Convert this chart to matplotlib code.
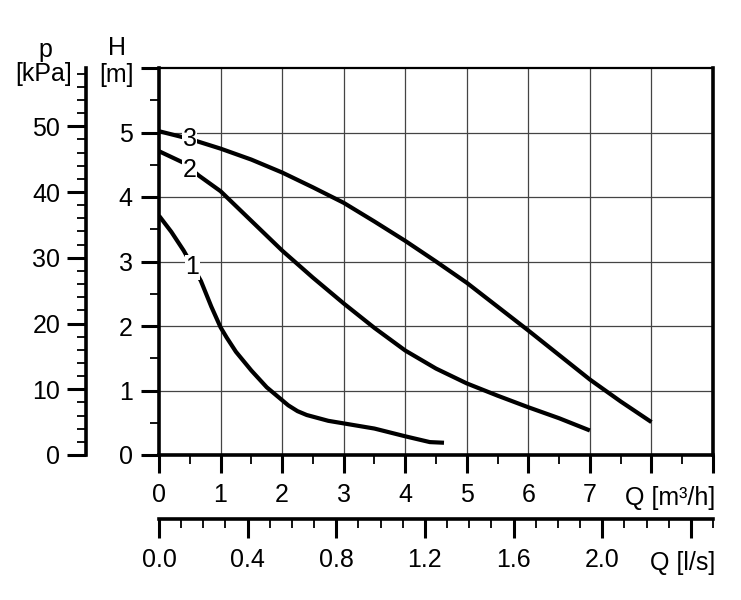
import matplotlib
matplotlib.use("Agg")
import matplotlib.pyplot as plt
import numpy as np
from matplotlib.ticker import FixedLocator

plt.rcParams['font.family'] = ['Liberation Sans', 'DejaVu Sans']
FS = 18

# pump curves, Q in m3/h, H in m
q1 = [0, 0.2, 0.4, 0.68, 0.85, 1.0, 1.1, 1.25, 1.5, 1.75, 2.0, 2.1, 2.25, 2.4, 2.75, 3.0, 3.25, 3.5, 3.75, 4.0, 4.4, 4.63]
h1 = [3.71, 3.46, 3.17, 2.7, 2.3, 1.98, 1.82, 1.6, 1.31, 1.05, 0.85, 0.77, 0.68, 0.62, 0.53, 0.49, 0.45, 0.41, 0.35, 0.29, 0.2, 0.19]
q2 = [0, 0.4, 0.65, 1.0, 1.5, 2.0, 2.5, 3.0, 3.5, 4.0, 4.5, 5.0, 5.5, 6.0, 6.5, 7.0]
h2 = [4.71, 4.53, 4.33, 4.09, 3.63, 3.17, 2.75, 2.35, 1.97, 1.62, 1.34, 1.11, 0.92, 0.74, 0.57, 0.38]
q3 = [0, 0.5, 1.0, 1.5, 2.0, 2.5, 3.0, 3.5, 4.0, 4.5, 5.0, 5.5, 6.0, 6.5, 7.0, 7.5, 8.0]
h3 = [5.02, 4.9, 4.75, 4.58, 4.38, 4.15, 3.91, 3.62, 3.32, 3.0, 2.67, 2.3, 1.93, 1.55, 1.17, 0.83, 0.51]
curve_labels = ['1', '2', '3']
label_pos = [(0.54, 2.91), (0.5, 4.42), (0.5, 4.9)]

x_ticks = list(range(10))
x_labels = ['0', '1', '2', '3', '4', '5', '6', '7', '', '']
ls_ticks = [0, 0.4, 0.8, 1.2, 1.6, 2.0, 2.4]
ls_labels = ['0.0', '0.4', '0.8', '1.2', '1.6', '2.0', '']
p_ticks = [0, 10, 20, 30, 40, 50]
p_labels = ['0', '10', '20', '30', '40', '50']
h_ticks = list(range(7))
h_labels = ['0', '1', '2', '3', '4', '5', '']

W, H = 741, 600
fig = plt.figure(figsize=(W / 100, H / 100), dpi=100)
L, R, B, T = 159, 713, 455, 68
ax = fig.add_axes([L / W, 1 - B / H, (R - L) / W, (B - T) / H])

ax.set_xlim(0, 9)
ax.set_ylim(0, 6)
for q in range(1, 9):
    ax.axvline(q, color='#444444', lw=0.9, zorder=1)
for h in range(1, 6):
    ax.axhline(h, color='#444444', lw=0.9, zorder=1)

for q, h in [(q1, h1), (q2, h2), (q3, h3)]:
    ax.plot(q, h, color='black', lw=3, solid_capstyle='butt', solid_joinstyle='round', zorder=3)
for lab, (x, y) in zip(curve_labels, label_pos):
    ax.text(x, y, lab, fontsize=FS, ha='center', va='center', zorder=4,
            bbox=dict(facecolor='white', edgecolor='none', pad=0.3))

for s in ['left', 'right', 'bottom']:
    ax.spines[s].set_linewidth(2.6)
ax.spines['top'].set_linewidth(1.6)

ax.xaxis.set_major_locator(FixedLocator(x_ticks))
ax.xaxis.set_minor_locator(FixedLocator(np.arange(0.5, 9, 1.0)))
ax.set_xticklabels(x_labels)
ax.yaxis.set_major_locator(FixedLocator(h_ticks))
ax.yaxis.set_minor_locator(FixedLocator(np.arange(0.5, 6, 1.0)))
ax.set_yticklabels(h_labels)
ax.tick_params(which='major', direction='out', length=13, width=2.2, labelsize=FS)
ax.tick_params(which='minor', direction='out', length=6.5, width=1.3)
ax.tick_params(axis='x', which='major', pad=7.5)
ax.tick_params(axis='y', which='major', pad=6)

# pressure axis (kPa)
pax = fig.add_axes([86 / W, 1 - B / H, 0.0001, (B - T) / H])
pax.set_ylim(0, 6 * 9.81)
for s in ['top', 'right', 'bottom']:
    pax.spines[s].set_visible(False)
pax.spines['left'].set_linewidth(2.6)
pax.set_xticks([])
pax.yaxis.set_major_locator(FixedLocator(p_ticks))
pax.yaxis.set_minor_locator(FixedLocator(np.arange(2, 59, 2)))
pax.set_yticklabels(p_labels)
pax.tick_params(which='major', direction='out', length=13.5, width=2.2, labelsize=FS, pad=5)
pax.tick_params(which='minor', direction='out', length=6.5, width=1.3)

# flow axis (l/s)
lax = fig.add_axes([L / W, 1 - 519 / H, (R - L) / W, 0.0001])
lax.set_xlim(0, 9 / 3.6)
for s in ['top', 'right', 'left']:
    lax.spines[s].set_visible(False)
lax.spines['bottom'].set_linewidth(2.6)
lax.set_yticks([])
lax.xaxis.set_major_locator(FixedLocator(ls_ticks))
lax.xaxis.set_minor_locator(FixedLocator(np.arange(0.1, 2.51, 0.1)))
lax.set_xticklabels(ls_labels)
lax.tick_params(which='major', direction='out', length=13.5, width=2.2, labelsize=FS, pad=7.5)
lax.tick_params(which='minor', direction='out', length=6.5, width=1.3)

fig.text(45 / W, 1 - 50 / H, 'p', fontsize=FS, ha='center', va='center')
fig.text(43.5 / W, 1 - 74 / H, '[kPa]', fontsize=FS, ha='center', va='center')
fig.text(117 / W, 1 - 48 / H, 'H', fontsize=FS, ha='center', va='center')
fig.text(116.5 / W, 1 - 75 / H, '[m]', fontsize=FS, ha='center', va='center')
fig.text(715 / W, 1 - 498 / H, 'Q [m³/h]', fontsize=FS, ha='right', va='center')
fig.text(715 / W, 1 - 563 / H, 'Q [l/s]', fontsize=FS, ha='right', va='center')

fig.savefig('out.png', dpi=100)
